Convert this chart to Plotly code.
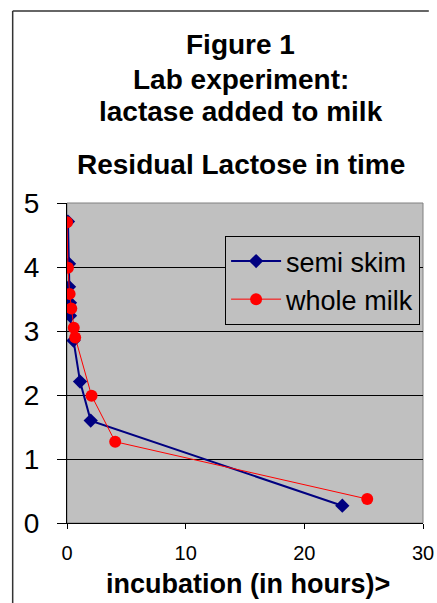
import plotly.graph_objects as go

semi_x = [0.08, 0.17, 0.17, 0.25, 0.25, 0.55, 1.1, 2.0, 23.2]
semi_y = [4.71, 4.05, 3.69, 3.44, 3.24, 2.85, 2.21, 1.60, 0.27]
whole_x = [0.0, 0.08, 0.22, 0.36, 0.57, 0.69, 2.07, 4.06, 25.3]
whole_y = [4.70, 3.99, 3.58, 3.35, 3.05, 2.90, 1.99, 1.27, 0.375]

title_lines = ["Figure 1", "Lab experiment:", "lactase added to milk", "Residual Lactose in time"]
x_title = "incubation (in hours)>"

FONT = "Liberation Sans, Arial, sans-serif"
L, R, T, B = 67, 3, 203, 80
W, H = 437, 603
pw, ph = W - L - R, H - T - B

def px(x):
    return (x - L) / pw

def py(y):
    return (H - B - y) / ph

fig = go.Figure()
fig.add_trace(go.Scatter(x=semi_x, y=semi_y, mode="lines+markers", name="semi skim",
                         line=dict(color="#000080", width=2),
                         marker=dict(symbol="diamond", size=11, color="#000080")))
fig.add_trace(go.Scatter(x=whole_x, y=whole_y, mode="lines+markers", name="whole milk",
                         line=dict(color="#FF0000", width=1),
                         marker=dict(symbol="circle", size=12, color="#FF0000")))

annotations = []
for txt, yc in zip(title_lines, [44, 79, 112, 164]):
    annotations.append(dict(text="<b>%s</b>" % txt, x=px(246), y=py(yc), xref="paper", yref="paper",
                            xanchor="center", yanchor="middle", showarrow=False,
                            font=dict(family=FONT, size=28, color="black")))
annotations.append(dict(text="<b>%s</b>" % x_title, x=px(254), y=py(584), xref="paper", yref="paper",
                        xanchor="center", yanchor="middle", showarrow=False,
                        font=dict(family=FONT, size=27, color="black")))

fig.update_layout(
    width=W, height=H,
    margin=dict(l=L, r=R, t=T, b=B, pad=0),
    paper_bgcolor="white", plot_bgcolor="#C0C0C0",
    font=dict(family=FONT, color="black"),
    showlegend=True,
    legend=dict(x=px(431), y=py(236), xanchor="right", yanchor="top",
                bgcolor="#C0C0C0", bordercolor="black", borderwidth=1,
                font=dict(family=FONT, size=27, color="black"),
                tracegroupgap=0, itemwidth=50),
    annotations=annotations,
    shapes=[
        dict(type="line", xref="paper", yref="paper", x0=px(11), x1=px(11), y0=py(640), y1=py(11),
             line=dict(color="#333333", width=1.5)),
        dict(type="line", xref="paper", yref="paper", x0=px(11), x1=px(440), y0=py(11), y1=py(11),
             line=dict(color="#333333", width=1.5)),
        dict(type="rect", xref="paper", yref="paper", x0=0, x1=1, y0=0, y1=1,
             line=dict(color="#808080", width=1), layer="below"),
    ],
)
fig.update_xaxes(range=[0, 30], tickvals=[0, 10, 20, 30], showgrid=False, zeroline=False,
                 showline=True, linecolor="black", linewidth=1, ticks="outside", ticklen=5,
                 tickcolor="black", tickfont=dict(family=FONT, size=20),
                 ticklabeloverflow="allow", ticklabelstandoff=7)
fig.update_yaxes(range=[0, 5], tickvals=[0, 1, 2, 3, 4, 5], showgrid=True, gridcolor="black",
                 gridwidth=1, zeroline=False, showline=True, linecolor="black", linewidth=1,
                 ticks="outside", ticklen=9, tickcolor="black", tickfont=dict(family=FONT, size=28),
                 ticklabelstandoff=12)

fig.write_html("out.html", config={"displayModeBar": False})
